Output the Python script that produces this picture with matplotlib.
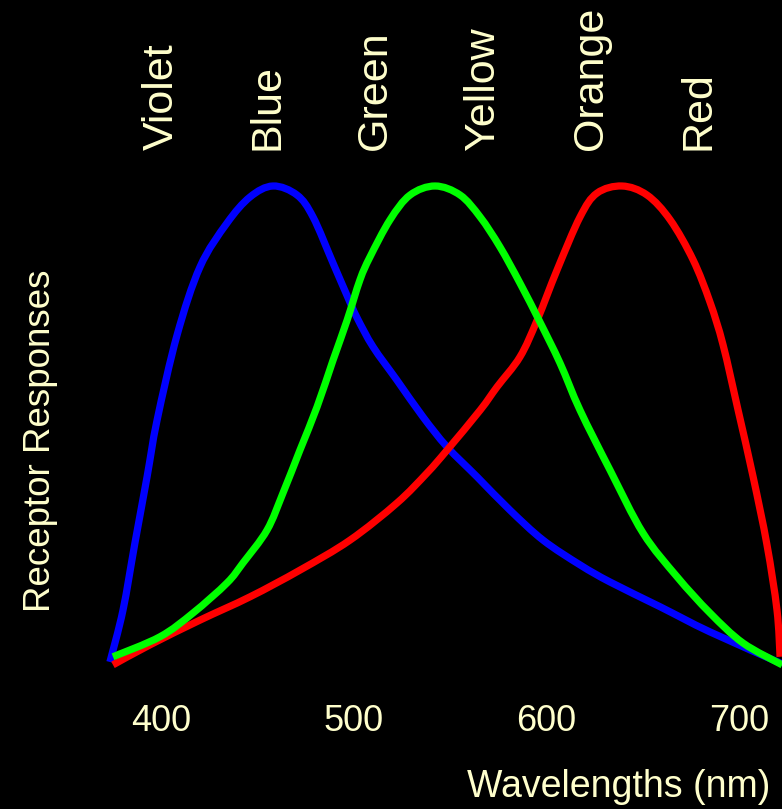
import matplotlib
matplotlib.use("Agg")
import numpy as np
import matplotlib.pyplot as plt
import matplotlib.transforms as mtransforms
from matplotlib.path import Path
from matplotlib.patches import PathPatch

plt.rcParams['font.family'] = ['Liberation Sans', 'DejaVu Sans']

# Blue receptor (short wavelength)
blue_nm = [373.2, 380.0, 386.2, 392.5, 397.7, 408.1, 420.0, 434.0, 446.0, 457.9,
           470.4, 478.7, 489.1, 496.9, 501.6, 509.9, 522.3, 535.8, 548.3, 563.9,
           581.0, 598.2, 617.4, 633.0, 659.0, 685.0, 722.4]
blue_resp = [0.0, 0.109, 0.25, 0.389, 0.508, 0.687, 0.830, 0.922, 0.977, 1.0,
             0.981, 0.935, 0.838, 0.765, 0.723, 0.662, 0.592, 0.515, 0.452, 0.389,
             0.319, 0.256, 0.204, 0.168, 0.116, 0.063, -0.004]

# Green receptor (medium wavelength)
green_nm = [374.8, 399.2, 416.4, 434.0, 442.3, 454.8, 463.1, 471.9, 480.8, 489.1,
            496.4, 503.1, 508.3, 518.7, 529.1, 542.1, 555.1, 565.5, 575.8, 586.2,
            596.6, 607.0, 617.4, 633.0, 650.1, 667.8, 684.9, 702.0, 722.4]
green_resp = [0.011, 0.053, 0.103, 0.166, 0.208, 0.277, 0.355, 0.445, 0.536, 0.634,
              0.718, 0.803, 0.851, 0.929, 0.981, 1.0, 0.981, 0.935, 0.872, 0.796,
              0.714, 0.628, 0.529, 0.403, 0.271, 0.179, 0.103, 0.040, -0.006]

# Red receptor (long wavelength)
red_nm = [374.8, 394.0, 420.0, 446.0, 471.9, 497.9, 522.3, 537.9, 548.3, 565.5,
          574.3, 586.2, 595.1, 605.5, 617.4, 626.2, 639.2, 652.2, 664.2, 676.1,
          684.9, 691.7, 699.5, 707.3, 714.5, 719.7, 721.3]
red_resp = [-0.006, 0.036, 0.088, 0.137, 0.193, 0.256, 0.334, 0.397, 0.445, 0.529,
            0.578, 0.641, 0.718, 0.824, 0.935, 0.985, 1.0, 0.981, 0.929, 0.845,
            0.756, 0.666, 0.529, 0.389, 0.246, 0.109, 0.011]

color_names = ["Violet", "Blue", "Green", "Yellow", "Orange", "Red"]
color_pos = [400, 455, 511, 567, 623, 679]

xticks = [400, 500, 600, 700]
xtick_labels = ["400", "500", "600", "700"]

txt = '#FFFFCC'


def smooth_path(xs, ys):
    """Catmull-Rom curve through the given points, as cubic Bezier segments."""
    pts = np.column_stack([xs, ys])
    n = len(pts)
    verts = [pts[0]]
    codes = [Path.MOVETO]
    for i in range(n - 1):
        p0 = pts[i - 1] if i > 0 else pts[i]
        p1 = pts[i]
        p2 = pts[i + 1]
        p3 = pts[i + 2] if i + 2 < n else pts[i + 1]
        verts += [p1 + (p2 - p0) / 6.0, p2 - (p3 - p1) / 6.0, p2]
        codes += [Path.CURVE4] * 3
    return Path(verts, codes)


fig = plt.figure(figsize=(7.82, 8.09), dpi=100, facecolor='black')
ax = fig.add_axes([110/782, 1 - 668/809, 672/782, (668 - 180)/809])
ax.set_facecolor('black')
ax.set_xlim(373.25, 722.3)
ax.set_ylim(-6/476, 482/476)

lw = 5.2
for xs, ys, col, z in [(blue_nm, blue_resp, '#0000FF', 2),
                       (red_nm, red_resp, '#FF0000', 3),
                       (green_nm, green_resp, '#00FF00', 4)]:
    patch = PathPatch(smooth_path(xs, ys), facecolor='none', edgecolor=col,
                      lw=lw, capstyle='butt', joinstyle='round', clip_on=False, zorder=z)
    ax.add_patch(patch)

for s in ax.spines.values():
    s.set_visible(False)
ax.set_yticks([])
ax.set_xticks(xticks)
ax.set_xticklabels(xtick_labels)
ax.tick_params(axis='x', length=0, pad=26, labelsize=26, labelcolor=txt)

trans = mtransforms.blended_transform_factory(ax.transData, fig.transFigure)
for name, pos in zip(color_names, color_pos):
    ax.text(pos, 1 - 150/809, name, rotation=90, ha='center', va='bottom',
            fontsize=31, color=txt, transform=trans)

fig.text(770/782, 1 - 797/809, "Wavelengths (nm)", ha='right', va='baseline',
         fontsize=27, color=txt)
fig.text(41/782, 1 - 441/809, "Receptor Responses", rotation=90, ha='center',
         va='center', fontsize=26.5, color=txt)

fig.savefig("out.png", dpi=100, facecolor='black')
